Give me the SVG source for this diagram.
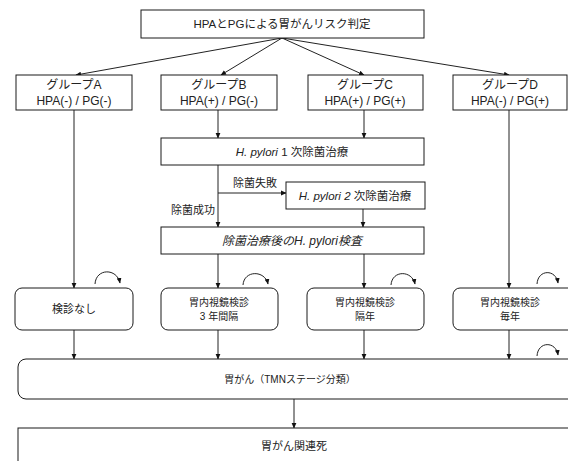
<svg xmlns="http://www.w3.org/2000/svg" width="568" height="461" viewBox="0 0 568 461">
<defs>
<marker id="ah" markerUnits="userSpaceOnUse" markerWidth="6" markerHeight="6" viewBox="0 0 6 6" refX="5" refY="3" orient="auto">
<path d="M0,0.6 L5.5,3 L0,5.4 Z" fill="#111"/>
</marker>
<style>
.bx{fill:#fff;stroke:#1a1a1a;stroke-width:1}
.t{font-family:"Liberation Sans","Noto Sans CJK JP",sans-serif;fill:#222;text-anchor:middle}
.s12{font-size:12px}
.s115{font-size:11.5px}
.s11{font-size:11px}
.s10{font-size:10px}
.it{font-style:italic}
.ln{fill:none;stroke:#222;stroke-width:1;marker-end:url(#ah)}
</style>
</defs>
<rect width="568" height="461" fill="#fff"/>

<g id="connectors">
<line class="ln" x1="282" y1="38" x2="76" y2="75"/>
<line class="ln" x1="282" y1="38" x2="221" y2="75"/>
<line class="ln" x1="282" y1="38" x2="364" y2="75"/>
<line class="ln" x1="282" y1="38" x2="509" y2="75"/>
<line class="ln" x1="74" y1="110" x2="74" y2="288"/>
<line class="ln" x1="218" y1="110" x2="218" y2="138"/>
<line class="ln" x1="364" y1="110" x2="364" y2="138"/>
<line class="ln" x1="509" y1="110" x2="509" y2="288"/>
<line class="ln" x1="218" y1="165" x2="218" y2="227"/>
<polyline class="ln" points="218,193 286,193"/>
<line class="ln" x1="363" y1="209" x2="363" y2="227"/>
<line class="ln" x1="218" y1="254" x2="218" y2="288"/>
<line class="ln" x1="364" y1="254" x2="364" y2="288"/>
<line class="ln" x1="74" y1="330" x2="74" y2="359"/>
<line class="ln" x1="218" y1="330" x2="218" y2="359"/>
<line class="ln" x1="364" y1="330" x2="364" y2="359"/>
<line class="ln" x1="509" y1="330" x2="509" y2="359"/>
<line class="ln" x1="294" y1="399" x2="294" y2="428"/>
<path class="ln" d="M95,284 C96,268 117,268 120,283"/>
<path class="ln" d="M243,285 C244,270 265,270 268,284"/>
<path class="ln" d="M391,285 C392,270 412,270 415,284"/>
<path class="ln" d="M537,284 C538,269 556,269 558,283"/>
<path class="ln" d="M537,356 C538,341 556,341 558,355"/>
<text class="t s11" x="255" y="187">除菌失敗</text>
<text class="t s11" x="193" y="214">除菌成功</text>
</g>

<g id="top">
<rect class="bx" x="141" y="10" width="283" height="28"/>
<text class="t s115" x="282" y="28">HPAとPGによる胃がんリスク判定</text>
</g>

<g id="groupA">
<rect class="bx" x="16" y="75" width="116" height="35"/>
<text class="t s12" x="74" y="89">グループA</text>
<text class="t s12" x="74" y="105">HPA(-) / PG(-)</text>
</g>
<g id="groupB">
<rect class="bx" x="161" y="75" width="116" height="35"/>
<text class="t s12" x="219" y="89">グループB</text>
<text class="t s12" x="219" y="105">HPA(+) / PG(-)</text>
</g>
<g id="groupC">
<rect class="bx" x="308" y="75" width="115" height="35"/>
<text class="t s12" x="365" y="89">グループC</text>
<text class="t s12" x="365" y="105">HPA(+) / PG(+)</text>
</g>
<g id="groupD">
<rect class="bx" x="453" y="75" width="114" height="35"/>
<text class="t s12" x="510" y="89">グループD</text>
<text class="t s12" x="510" y="105">HPA(-) / PG(+)</text>
</g>

<g id="erad1">
<rect class="bx" x="161" y="138" width="263" height="27"/>
<text class="t s115" x="292" y="156"><tspan class="it">H. pylori</tspan> 1 次除菌治療</text>
</g>
<g id="erad2">
<rect class="bx" x="286" y="182" width="139" height="27"/>
<text class="t s115" x="355" y="200"><tspan class="it">H. pylori</tspan> <tspan class="it">2</tspan> 次除菌治療</text>
</g>
<g id="test">
<rect class="bx" x="161" y="227" width="263" height="27"/>
<text class="t s12 it" x="292" y="245">除菌治療後のH. pylori検査</text>
</g>

<g id="noscreen">
<rect class="bx" x="15" y="288" width="118" height="42" rx="7"/>
<text class="t s11" x="74" y="313">検診なし</text>
</g>
<g id="endo3y">
<rect class="bx" x="161" y="288" width="117" height="42" rx="7"/>
<text class="t s10" x="219" y="306">胃内視鏡検診</text>
<text class="t s10" x="219" y="320">3 年間隔</text>
</g>
<g id="endo2y">
<rect class="bx" x="307" y="288" width="117" height="42" rx="7"/>
<text class="t s10" x="365" y="306">胃内視鏡検診</text>
<text class="t s10" x="365" y="320">隔年</text>
</g>
<g id="endo1y">
<rect class="bx" x="453" y="288" width="125" height="42" rx="7"/>
<text class="t s10" x="510" y="306">胃内視鏡検診</text>
<text class="t s10" x="510" y="320">毎年</text>
</g>

<g id="cancer">
<rect class="bx" x="18" y="359" width="570" height="40" rx="8"/>
<text class="t s10" x="290" y="383">胃がん（TMNステージ分類）</text>
</g>
<g id="death">
<rect class="bx" x="18" y="428" width="570" height="50"/>
<text class="t s11" x="294" y="450">胃がん関連死</text>
</g>
</svg>
